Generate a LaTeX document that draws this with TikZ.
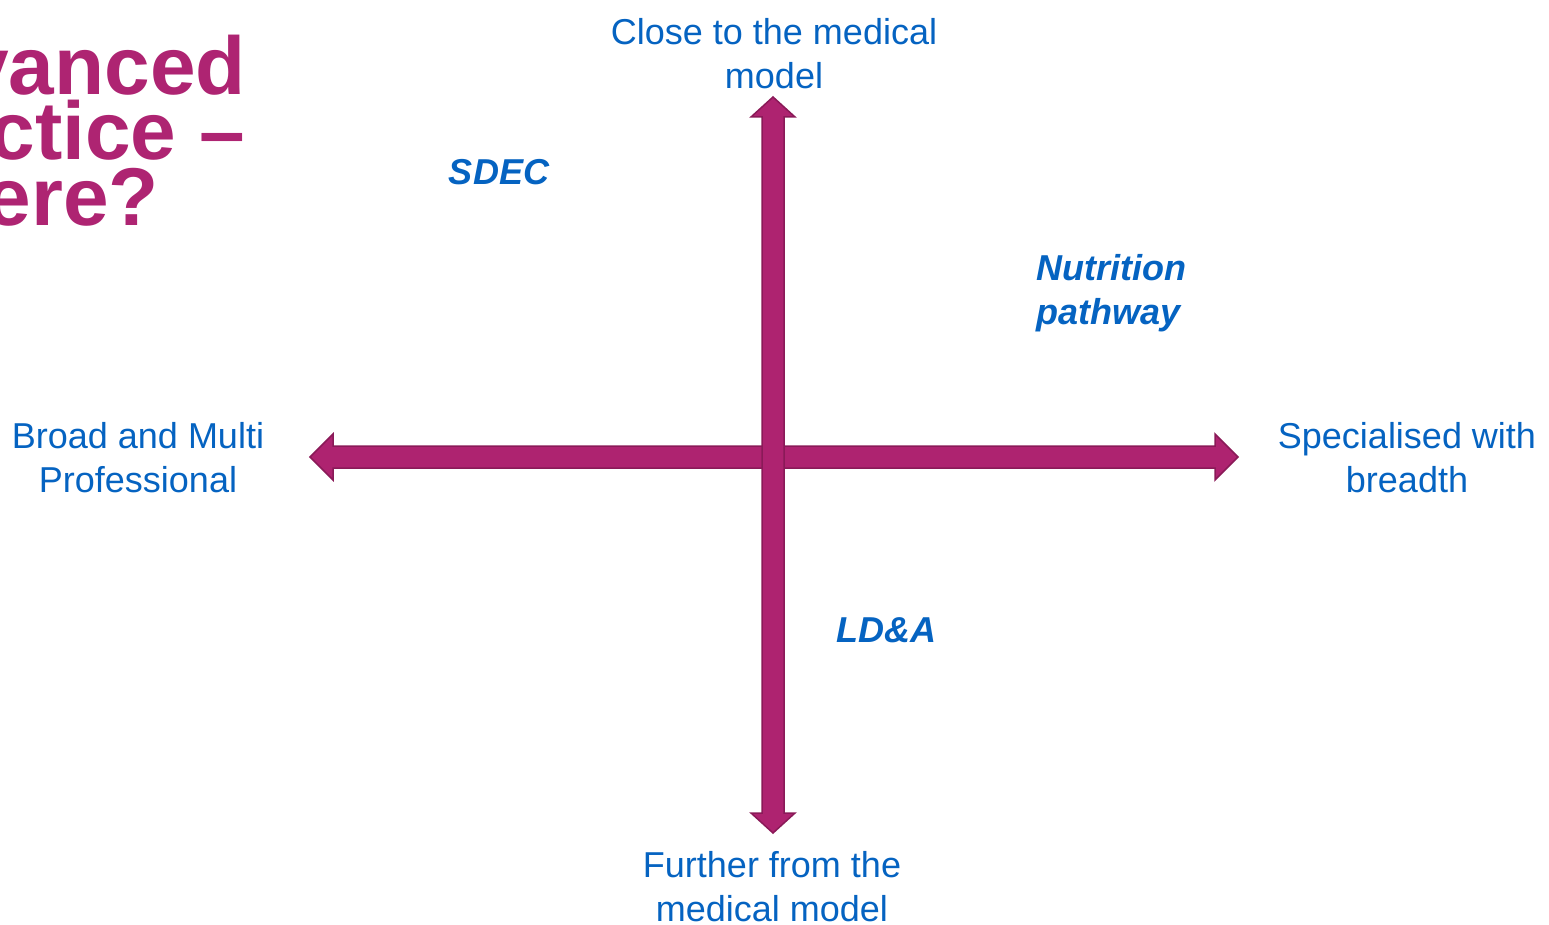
\documentclass[tikz,border=0pt]{standalone}
\usepackage{fontspec}
\setmainfont{Liberation Sans}
\definecolor{axfill}{HTML}{AE2370}
\definecolor{axline}{HTML}{8A1A58}
\definecolor{lblue}{HTML}{0563C1}
\definecolor{ttl}{HTML}{AE2472}
\begin{document}
\begin{tikzpicture}[x=1pt,y=-1pt,
  axis/.style={fill=axfill,draw=axline,line width=1.5pt,line join=miter},
  lab/.style={text=lblue,font=\fontsize{36}{44}\selectfont,align=center,inner sep=0pt},
  tag/.style={text=lblue,font=\fontsize{36}{44}\selectfont\bfseries\itshape,inner sep=0pt},
  title/.style={text=ttl,font=\fontsize{82}{65}\selectfont\bfseries,inner sep=0pt,anchor=base east}]
\useasboundingbox (0,0) rectangle (1549,925);
\clip (0,0) rectangle (1549,925);
% title
\node[title] (title1) at (246,95) {Advanced};
\node[title] (title2) at (245,160) {practice --};
\node[title] (title3) at (159,226) {where?};
% horizontal axis
\draw[axis] (310,457) -- (333,434) -- (333,446) -- (1215,446) -- (1215,434) -- (1238,457)
  -- (1215,480) -- (1215,468) -- (333,468) -- (333,480) -- cycle;
% vertical axis
\draw[axis] (773,97) -- (795,117) -- (784,117) -- (784,813) -- (795,813) -- (773,833)
  -- (751,813) -- (762,813) -- (762,117) -- (751,117) -- cycle;
% axis labels
\node[lab] (top) at (774,54) {Close to the medical\\model};
\node[lab] (bottom) at (772,887) {Further from the\\medical model};
\node[lab] (left) at (138,458) {Broad and Multi\\Professional};
\node[lab] (right) at (1407,458) {Specialised with\\breadth};
% items
\node[tag] (sdec) at (499,172) {SDEC};
\node[tag,align=left] (nut) at (1111,293) {Nutrition\\pathway};
\node[tag] (lda) at (886,630) {LD\&A};
\end{tikzpicture}
\end{document}
